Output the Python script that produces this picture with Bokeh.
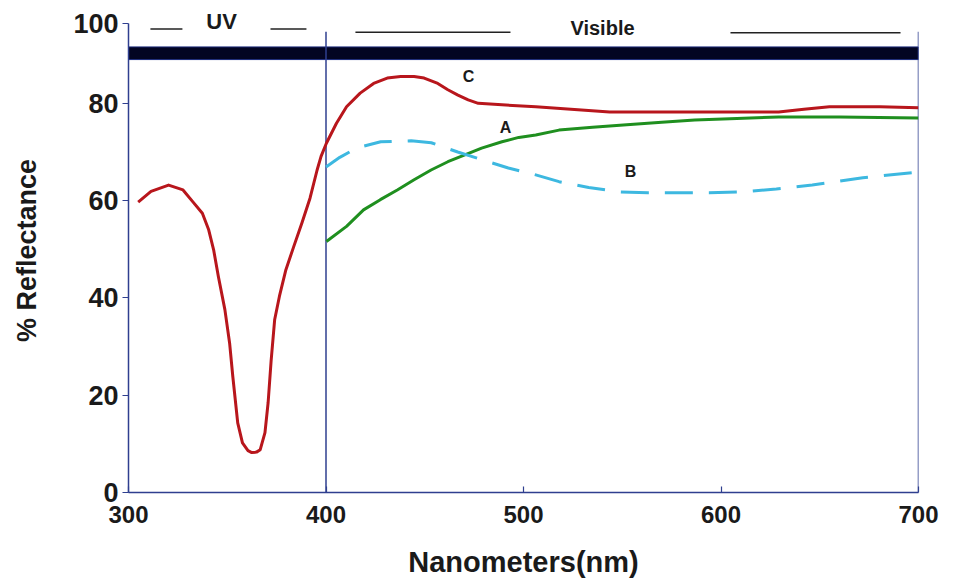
from bokeh.plotting import figure
from bokeh.models import Range1d, FixedTicker, Label
from bokeh.embed import file_html
from bokeh.resources import INLINE

# Curve C (red) - % reflectance vs wavelength (nm)
wl_c = [304.9, 311.4, 320.3, 327.6, 332.5, 337.4, 340.6, 343.1, 345.5, 348.8, 351.2, 352.8,
        355.3, 357.7, 360.5, 362.4, 364.8, 366.7, 369.1, 370.7, 372.2, 374.0, 376.4,
        379.7, 383.7, 387.8, 391.9, 395.5, 397.5, 400.2, 405.3, 410.4, 417.3, 424.1,
        431.0, 437.8, 444.6, 449.7, 456.6, 461.7, 466.8, 472.0, 477.1, 489.1, 506.2,
        543.6, 629.2, 642.0, 654.9, 680.5, 700.0]
refl_c = [59.7, 61.9, 63.2, 62.2, 59.8, 57.4, 54.0, 49.9, 44.4, 37.6, 30.7, 23.9,
          14.3, 10.2, 8.6, 8.2, 8.3, 8.8, 12.3, 18.5, 27.0, 35.5, 40.3,
          45.8, 50.6, 55.4, 60.5, 66.3, 69.1, 71.8, 75.9, 79.3, 82.1, 84.1,
          85.2, 85.5, 85.5, 85.2, 84.1, 82.8, 81.7, 80.7, 80.0, 79.7, 79.3,
          78.2, 78.2, 78.8, 79.3, 79.3, 79.1]

# Curve A (green)
wl_a = [400.2, 410.4, 419.0, 427.5, 436.1, 444.6, 453.2, 461.7, 470.3, 478.8, 489.1,
        497.6, 506.2, 518.0, 535.0, 552.3, 570.0, 586.7, 608.0, 629.2, 660.0, 700.0]
refl_a = [51.6, 54.7, 58.1, 60.2, 62.2, 64.3, 66.3, 68.0, 69.4, 70.8, 72.1,
          73.0, 73.5, 74.5, 75.1, 75.6, 76.1, 76.6, 76.9, 77.2, 77.2, 77.0]

# Curve B (blue dashed)
wl_b = [400.0, 407.0, 415.4, 427.7, 443.1, 453.3, 466.7, 479.0, 492.3, 506.2, 518.0,
        533.0, 548.7, 563.0, 578.0, 594.0, 610.3, 628.0, 646.2, 671.8, 700.0]
refl_b = [66.9, 68.9, 70.8, 72.1, 72.3, 71.9, 70.0, 68.4, 66.7, 65.3, 63.9,
          62.7, 61.8, 61.6, 61.6, 61.6, 61.8, 62.4, 63.2, 64.7, 65.9]

x_ticks = [300, 400, 500, 600, 700]
y_ticks = [0, 20, 40, 60, 80, 96.4]
y_tick_labels = {96.4: "100"}

band_x = [300, 700]
band_y = [89.0, 91.6]
divider_x = [400, 700]
divider_top = 94.7

curve_labels = [("C", 472.2, 85.6), ("A", 490.9, 75.0), ("B", 554.2, 65.9)]
region_labels = [("UV", 347.1, 96.8, 22), ("Visible", 540.0, 95.4, 20)]
region_dash_x0 = [311.1, 371.9, 414.9, 604.8]
region_dash_x1 = [327.3, 390.1, 493.4, 690.9]
region_dash_y = [95.3, 95.3, 94.6, 94.5]

FONT = "Liberation Sans"
AXIS_COLOR = "#2f3f8f"

p = figure(width=945, height=580, output_backend="svg", toolbar_location=None,
           x_range=Range1d(300, 700), y_range=Range1d(0, 99.5),
           min_border_left=128, min_border_right=27, min_border_top=8,
           min_border_bottom=87)
p.outline_line_color = None
p.xgrid.visible = False
p.ygrid.visible = False
p.background_fill_color = "white"

# Axes
p.xaxis.ticker = FixedTicker(ticks=x_ticks)
p.yaxis.ticker = FixedTicker(ticks=y_ticks)
p.yaxis.major_label_overrides = y_tick_labels
p.yaxis.bounds = (0, 96.4)
for ax in (p.xaxis, p.yaxis):
    ax.axis_line_color = AXIS_COLOR
    ax.axis_line_width = 1.5
    ax.major_tick_line_color = AXIS_COLOR
    ax.major_tick_line_width = 1.2
    ax.minor_tick_line_color = None
    ax.major_label_text_font = FONT
    ax.major_label_text_font_style = "bold"
    ax.major_label_text_color = "#1a1a1a"
    ax.axis_label_text_font = FONT
    ax.axis_label_text_font_style = "bold"
    ax.axis_label_text_color = "#1a1a1a"
p.xaxis.major_tick_in = 6
p.xaxis.major_tick_out = 0
p.yaxis.major_tick_in = 0
p.yaxis.major_tick_out = 6
p.xaxis.major_label_text_font_size = "24px"
p.yaxis.major_label_text_font_size = "27px"
p.xaxis.major_label_standoff = 13
p.yaxis.major_label_standoff = 4
p.xaxis.axis_label = "Nanometers(nm)"
p.yaxis.axis_label = "% Reflectance"
p.xaxis.axis_label_text_font_size = "29px"
p.yaxis.axis_label_text_font_size = "27px"
p.xaxis.axis_label_standoff = 20
p.yaxis.axis_label_standoff = 28

# Thick band & vertical dividers
p.quad(left=[band_x[0]], right=[band_x[1]], bottom=[band_y[0]], top=[band_y[1]],
       fill_color="#030522", line_color="#1b2a7a", line_width=1)
p.segment(x0=divider_x, y0=[0, 0], x1=divider_x, y1=[divider_top, divider_top],
          line_color=AXIS_COLOR, line_width=1.5)

# Curves
p.line(wl_a, refl_a, line_color="#1f8f1f", line_width=3, line_join="round")
p.line(wl_b, refl_b, line_color="#3db8e0", line_width=3, line_dash="28 16")
p.line(wl_c, refl_c, line_color="#b8161c", line_width=3, line_join="round")

for txt, x, y in curve_labels:
    p.add_layout(Label(x=x, y=y, text=txt, text_font=FONT, text_font_style="bold",
                       text_font_size="16px", text_align="center",
                       text_baseline="middle", text_color="#1a1a1a"))

for txt, x, y, fs in region_labels:
    p.add_layout(Label(x=x, y=y, text=txt, text_font=FONT, text_font_style="bold",
                       text_font_size=f"{fs}px", text_align="center",
                       text_baseline="middle", text_color="#1a1a1a"))

p.segment(x0=region_dash_x0, y0=region_dash_y, x1=region_dash_x1, y1=region_dash_y,
          line_color="#222222", line_width=1.5)

open("out.html", "w").write(file_html(p, INLINE))
